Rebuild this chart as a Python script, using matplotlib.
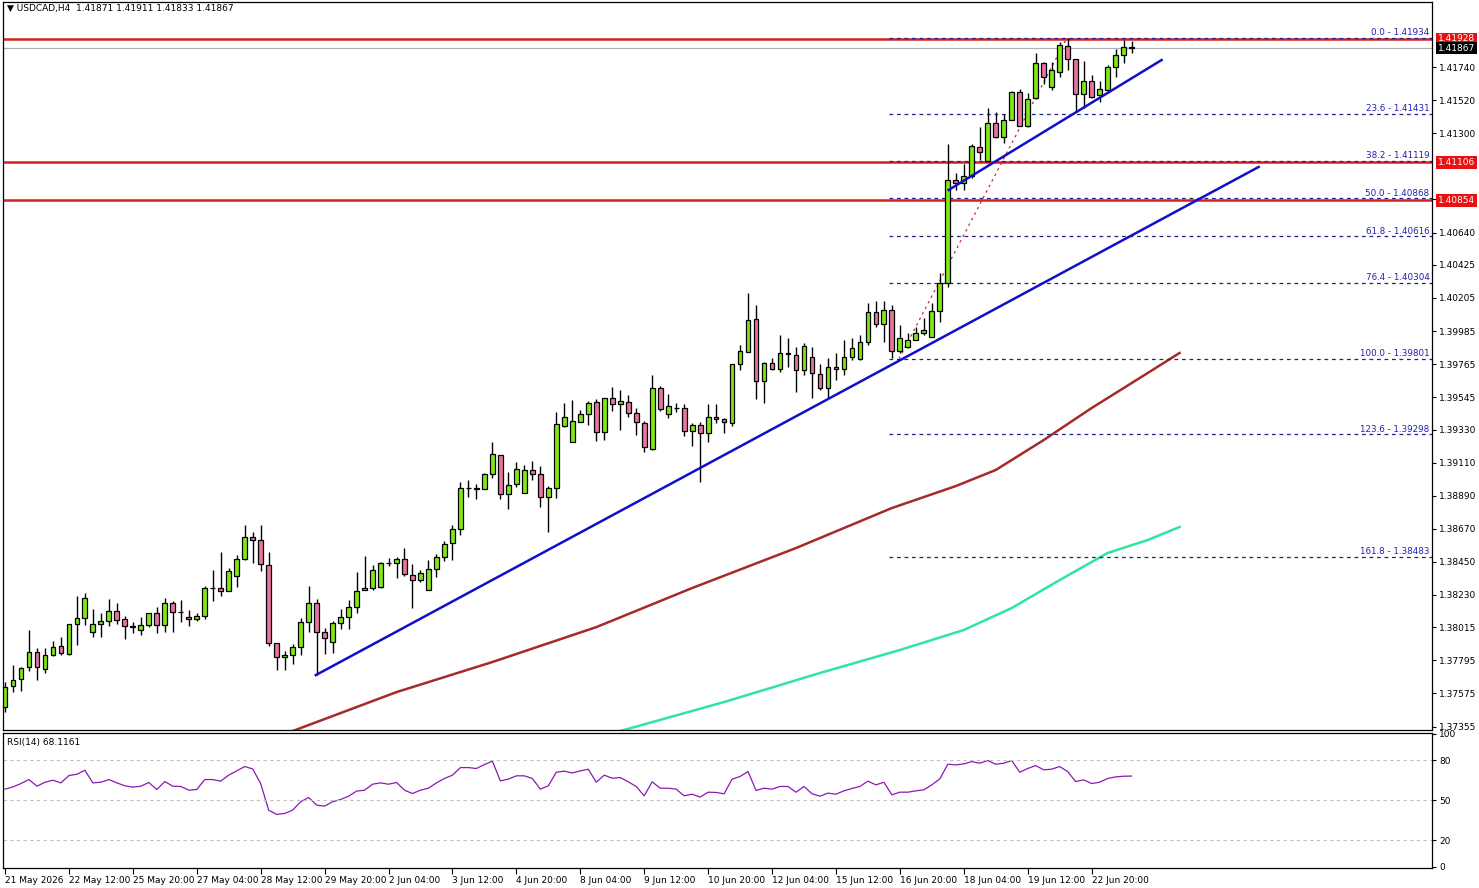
import matplotlib
matplotlib.use("Agg")
import matplotlib.pyplot as plt
import numpy as np

# USDCAD H4 candles, in 1e-5 points
opens = [137484, 137624, 137671, 137750, 137850, 137737, 137830, 137890, 137837, 138036,
         138076, 137983, 138036, 138056, 138123, 138070, 138023, 137997, 138030, 138110,
         138030, 138176, 138116, 138083, 138070, 138090, 138276, 138276, 138256, 138356,
         138469, 138615, 138595, 138429, 137910, 137817, 137830, 137883, 138050, 138176,
         137983, 137917, 138043, 138083, 138149, 138263, 138276, 138282, 138442, 138442,
         138469, 138362, 138329, 138263, 138402, 138482, 138575, 138668, 138941, 138941,
         138934, 139034, 139160, 138901, 138967, 138908, 139061, 139034, 138881, 138941,
         139353, 139247, 139380, 139433, 139513, 139313, 139539, 139499, 139513, 139440,
         139373, 139200, 139606, 139433, 139473, 139473, 139320, 139360, 139307, 139413,
         139400, 139373, 139765, 139845, 140065, 139652, 139772, 139732, 139839, 139825,
         139726, 139812, 139699, 139606, 139745, 139732, 139812, 139799, 139912, 140111,
         140031, 140125, 139852, 139878, 139925, 139972, 139945, 140118, 140304, 140989,
         140969, 141016, 141208, 141115, 141368, 141275, 141388, 141574, 141348, 141534,
         141767, 141607, 141707, 141880, 141794, 141561, 141647, 141554, 141588, 141740,
         141820, 141871]
highs = [137651, 137764, 137750, 137997, 137877, 137877, 137923, 137950, 138036, 138223,
         138243, 138136, 138110, 138203, 138176, 138090, 138050, 138083, 138110, 138149,
         138209, 138189, 138196, 138130, 138110, 138289, 138396, 138515, 138409, 138495,
         138695, 138648, 138695, 138515, 137910, 137857, 137903, 138076, 138289, 138203,
         138010, 138056, 138136, 138196, 138382, 138489, 138429, 138449, 138475, 138482,
         138542, 138435, 138396, 138462, 138502, 138588, 138695, 138981, 138994, 138967,
         139041, 139247, 139160, 139047, 139114, 139094, 139120, 139087, 138954, 139446,
         139506, 139526, 139460, 139519, 139533, 139539, 139612, 139593, 139559, 139473,
         139386, 139692, 139619, 139566, 139506, 139499, 139373, 139380, 139499, 139499,
         139406, 139765, 139892, 140238, 140158, 139779, 139805, 139958, 139938, 139878,
         139905, 139878, 139765, 139805, 139839, 139925, 139938, 139958, 140171, 140184,
         140184, 140158, 140025, 139972, 140011, 140071, 140171, 140371, 141228, 141036,
         141095, 141228, 141341, 141468, 141441, 141428, 141581, 141594, 141568, 141834,
         141774, 141774, 141907, 141933, 141794, 141780, 141687, 141647, 141754, 141860,
         141920, 141911]
lows = [137451, 137584, 137591, 137724, 137664, 137711, 137824, 137830, 137830, 137897,
        138030, 137950, 137950, 138023, 138036, 137937, 137977, 137963, 138016, 137977,
        137983, 137983, 138050, 138023, 138056, 138070, 138189, 138223, 138256, 138282,
        138462, 138442, 138389, 137890, 137731, 137731, 137770, 137830, 137983, 137697,
        137837, 137844, 138003, 138003, 138110, 138263, 138263, 138276, 138422, 138342,
        138356, 138143, 138316, 138263, 138349, 138455, 138462, 138628, 138881, 138868,
        138934, 139007, 138868, 138801, 138947, 138908, 138994, 138814, 138648, 138874,
        139346, 139247, 139380, 139360, 139253, 139260, 139453, 139327, 139413, 139293,
        139180, 139194, 139453, 139406, 139446, 139287, 139220, 138981, 139247, 139373,
        139307, 139353, 139726, 139845, 139533, 139506, 139726, 139712, 139745, 139579,
        139692, 139539, 139593, 139539, 139659, 139692, 139792, 139792, 139892, 140011,
        139912, 139805, 139839, 139872, 139925, 139958, 139945, 140045, 140277, 140923,
        140923, 141002, 141122, 141115, 141268, 141235, 141388, 141348, 141341, 141528,
        141627, 141588, 141674, 141721, 141441, 141468, 141534, 141508, 141574, 141674,
        141767, 141833]
closes = [137617, 137664, 137744, 137850, 137750, 137830, 137883, 137844, 138036, 138076,
          138209, 138036, 138056, 138123, 138063, 138023, 138016, 138030, 138110, 138030,
          138176, 138116, 138116, 138070, 138090, 138276, 138276, 138256, 138389, 138469,
          138615, 138595, 138435, 137910, 137817, 137830, 137883, 138050, 138176, 137983,
          137943, 138043, 138083, 138149, 138256, 138276, 138396, 138442, 138442, 138469,
          138369, 138329, 138376, 138402, 138482, 138568, 138668, 138941, 138941, 138934,
          139034, 139167, 138901, 138961, 139067, 139061, 139034, 138881, 138941, 139366,
          139413, 139386, 139433, 139506, 139313, 139539, 139499, 139519, 139440, 139380,
          139213, 139606, 139466, 139486, 139473, 139320, 139360, 139307, 139413, 139400,
          139380, 139765, 139852, 140058, 139652, 139772, 139732, 139839, 139832, 139726,
          139885, 139706, 139606, 139745, 139732, 139812, 139872, 139912, 140111, 140031,
          140125, 139852, 139938, 139925, 139972, 139992, 140118, 140304, 140989, 140969,
          141016, 141215, 141175, 141368, 141275, 141388, 141574, 141348, 141528, 141767,
          141674, 141721, 141887, 141794, 141561, 141647, 141541, 141594, 141740, 141820,
          141873, 141867]

rsi = [58.3, 60, 62.5, 65.5, 60.5, 63.5, 65, 63, 68.5, 69.5, 72.5, 63, 63.5, 65.5, 63, 60.8,
       59.8, 60.5, 63.3, 58, 64, 60.5, 60.3, 57.5, 58, 65.5, 65.5, 64.3, 68.8, 72, 75.3, 73.5,
       62.5, 42.5, 39.3, 40, 42.5, 48.8, 52, 46.3, 45.5, 48.8, 50.5, 53, 56.8, 57.5, 62, 63,
       62, 63.3, 57.5, 55, 57.5, 59, 63, 66.3, 68.8, 74.5, 74.5, 73.8, 76.8, 79.3, 64.5, 65.8,
       68.3, 68.3, 66.3, 58.3, 60.8, 71, 71.8, 70.5, 72, 73.3, 63.5, 68.8, 66.5, 67, 63.8,
       60.3, 53.3, 63.8, 59, 59, 58.3, 53.3, 54.5, 52.3, 56, 55.8, 54.8, 65.8, 67.8, 71.5,
       57.3, 59, 58.3, 60.3, 60.3, 56, 60.3, 54.8, 53, 55.3, 54.5, 57, 58.8, 60.3, 64.3, 61.5,
       63.5, 54, 56, 56, 57, 57.8, 61.5, 66, 77, 76.5, 77.3, 79, 77.8, 79.8, 77, 77.8, 79.8,
       71, 73.8, 76, 72.8, 73.3, 75.3, 71.5, 64, 65.3, 62.5, 63.5, 66.3, 67.5, 68, 68.1161]

# moving averages (vertices: bar index, price points)
ma_slow_idx = [36, 49, 61, 74, 86, 99, 111, 119, 124, 130, 136, 142, 147]
ma_slow = [137325, 137584, 137784, 138016, 138276, 138542, 138808, 138954, 139061, 139260,
           139473, 139672, 139839]
ma_long_idx = [77, 90, 102, 112, 120, 126, 132, 138, 143, 147]
ma_long = [137325, 137518, 137711, 137864, 137997, 138143, 138329, 138509, 138595, 138682]

trend1 = ([38.9, 156.9], [1.37697, 1.41076])
trend2 = ([118.1, 144.75], [1.40923, 1.41787])

red_levels = [1.41928, 1.41106, 1.40854]
last_price = 1.41867
fib_pct = ["0.0", "23.6", "38.2", "50.0", "61.8", "76.4", "100.0", "123.6", "161.8"]
fib_vals = [1.41934, 1.41431, 1.41119, 1.40868, 1.40616, 1.40304, 1.39801, 1.39298, 1.38483]
fib_start = 110.6
fib_diag = ([111.9, 132.9], [1.39801, 1.41934])

price_ticks = [1.41740, 1.41520, 1.41300, 1.40860, 1.40640, 1.40425, 1.40205, 1.39985,
               1.39765, 1.39545, 1.39330, 1.39110, 1.38890, 1.38670, 1.38450, 1.38230,
               1.38015, 1.37795, 1.37575, 1.37355]
date_labels = ["21 May 2026", "22 May 12:00", "25 May 20:00", "27 May 04:00", "28 May 12:00",
               "29 May 20:00", "2 Jun 04:00", "3 Jun 12:00", "4 Jun 20:00", "8 Jun 04:00",
               "9 Jun 12:00", "10 Jun 20:00", "12 Jun 04:00", "15 Jun 12:00", "16 Jun 20:00",
               "18 Jun 04:00", "19 Jun 12:00", "22 Jun 20:00"]

O = np.array(opens) / 1e5
H = np.array(highs) / 1e5
L = np.array(lows) / 1e5
C = np.array(closes) / 1e5
x = np.arange(len(C))

W, Hpx = 1479, 888
fig = plt.figure(figsize=(W / 100, Hpx / 100), dpi=100)
plt.rcParams['font.family'] = ['DejaVu Sans']
left, right = 3 / W, 1432 / W
ax = fig.add_axes([left, 1 - 730 / Hpx, right - left, 728 / Hpx])
ax2 = fig.add_axes([left, 1 - 868 / Hpx, right - left, 135 / Hpx])
xlim = (-0.25, 178.6)

# candles
up = C >= O
ax.vlines(x, L, H, color="black", lw=1, zorder=3)
body = np.where(np.abs(C - O) < 1e-6, 0.000015, C - O)
ax.bar(x[up], body[up], bottom=O[up], width=0.6, color="#80e818", edgecolor="black", lw=0.9, zorder=4)
ax.bar(x[~up], body[~up], bottom=O[~up], width=0.6, color="#e874a4", edgecolor="black", lw=0.9, zorder=4)

ax.plot(ma_slow_idx, np.array(ma_slow) / 1e5, color="#a52a2a", lw=1.8, zorder=2)
ax.plot(ma_long_idx, np.array(ma_long) / 1e5, color="#2ee6a0", lw=1.8, zorder=2)
ax.plot(*trend1, color="#1010c8", lw=1.8, zorder=5)
ax.plot(*trend2, color="#1010c8", lw=1.8, zorder=5)

for v in red_levels:
    ax.axhline(v, color="#d42020", lw=1.8, zorder=1)
ax.axhline(last_price, color="#b0b0b0", lw=0.9, zorder=1)
for p, v in zip(fib_pct, fib_vals):
    ax.hlines(v, fib_start, xlim[1], color="#20208a", lw=0.9, linestyles=(0, (3, 3)), zorder=2)
    ax.text(xlim[1] - 0.3, v + 0.00004, f"{p} - {v:.5f}", color="#2020b0", fontsize=6.3,
            ha="right", va="bottom", zorder=6)
ax.plot(*fib_diag, color="#c03030", lw=0.9, ls=(0, (2, 3)), zorder=2)

ax.set_xlim(*xlim)
ax.set_ylim(1.37332, 1.42173)
ax.yaxis.tick_right()
ax.set_yticks(price_ticks)
ax.set_yticklabels([f"{t:.5f}" for t in price_ticks], fontsize=6.5)
ax.tick_params(axis="y", length=3, pad=2)
ax.set_xticks([])
for v, bg in [(red_levels[0], "#e81010"), (red_levels[1], "#e81010"), (red_levels[2], "#e81010"),
              (last_price, "black")]:
    ax.text(1.004, v, f"{v:.5f}", transform=ax.get_yaxis_transform(), fontsize=6.5,
            color="white", va="center", ha="left", zorder=10,
            bbox=dict(boxstyle="square,pad=0.2", fc=bg, ec="none"))
ax.text(0.003, 0.997, "▼ USDCAD,H4  1.41871 1.41911 1.41833 1.41867", transform=ax.transAxes,
        fontsize=6.5, va="top", ha="left")

# RSI pane
ax2.plot(x, rsi, color="#8a1ab0", lw=0.9)
for lvl in [80, 50, 20]:
    ax2.axhline(lvl, color="#c0c0c0", lw=0.8, ls=(0, (3, 3)))
ax2.set_xlim(*xlim)
ax2.set_ylim(-1, 100.5)
ax2.yaxis.tick_right()
ax2.set_yticks([100, 80, 50, 20, 0])
ax2.set_yticklabels(["100", "80", "50", "20", "0"], fontsize=6.5)
ax2.tick_params(axis="y", length=3, pad=2)
ax2.text(0.003, 0.96, "RSI(14) 68.1161", transform=ax2.transAxes, fontsize=6.5, va="top")
ticks = np.arange(len(date_labels)) * 8
ax2.set_xticks(ticks)
ax2.set_xticklabels(date_labels, fontsize=6.5, ha="left")
ax2.tick_params(axis="x", length=4, pad=2)

for a in (ax, ax2):
    for s in a.spines.values():
        s.set_linewidth(0.9)

fig.savefig("out.png", dpi=100)
